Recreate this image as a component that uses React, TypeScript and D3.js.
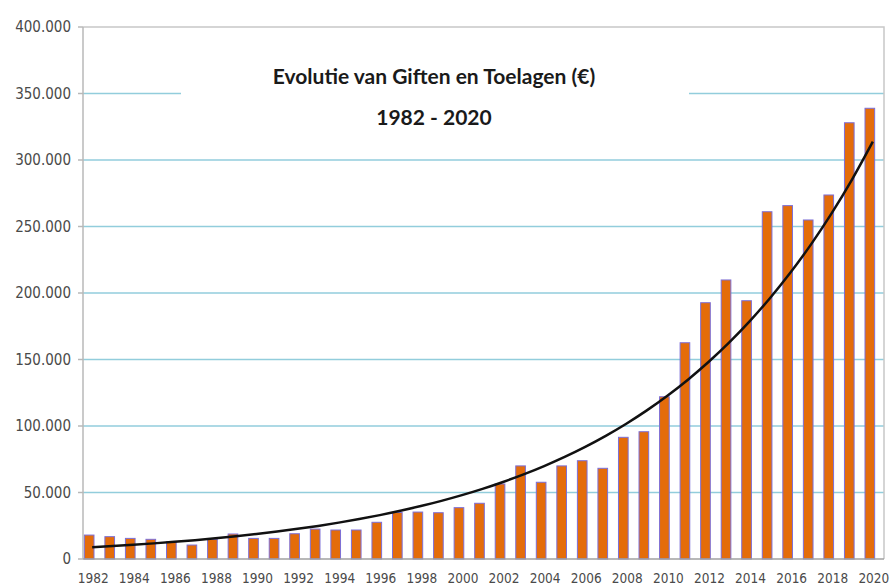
import React, { useRef, useEffect } from "react";
import * as d3 from "d3";

const years = d3.range(1982, 2021);
// yearly gifts and allowances in euro
const giften = [
  18000, 16800, 15500, 14800, 13000, 10500, 14800, 18800, 15500, 15500,
  19000, 22500, 21800, 21800, 27600, 35000, 35300, 34800, 38600, 41900,
  56400, 70000, 57700, 70000, 73900, 68200, 91500, 95700, 122000, 162600,
  192700, 209800, 194200, 261100, 265700, 254900, 273700, 328000, 338900,
];
const yTicks = [0, 50000, 100000, 150000, 200000, 250000, 300000, 350000, 400000];
const xLabelYears = years.filter((y) => y % 2 === 0);
const titleLines = ["Evolutie van Giften en Toelagen (€)", "1982 - 2020"];

const W = 891;
const H = 588;
const margin = { top: 27, right: 7, bottom: 29, left: 83 };

const App = () => {
  const svgRef = useRef<SVGSVGElement>(null);

  useEffect(() => {
    const svg = d3.select(svgRef.current);
    svg.selectAll("*").remove();

    const x = d3
      .scaleBand<number>()
      .domain(years)
      .range([margin.left, W - margin.right])
      .paddingInner(0.53)
      .paddingOuter(0.26);
    const y = d3
      .scaleLinear()
      .domain([0, 400000])
      .range([H - margin.bottom, margin.top]);

    const fmt = (v: number) => d3.format(",")(v).replace(/,/g, ".");
    const barShift = -4; // bars sit a little left of the year labels

    // gridlines
    svg
      .append("g")
      .selectAll("line")
      .data(yTicks.filter((t) => t > 0 && t < 400000))
      .join("line")
      .attr("x1", margin.left)
      .attr("x2", W - margin.right)
      .attr("y1", (d) => y(d))
      .attr("y2", (d) => y(d))
      .attr("stroke", "#92cddc")
      .attr("stroke-width", 1.5);

    // frame: top + right in light gray
    svg
      .append("path")
      .attr(
        "d",
        `M${margin.left},${y(400000)}H${W - margin.right}V${y(0)}`
      )
      .attr("fill", "none")
      .attr("stroke", "#c8c8c8")
      .attr("stroke-width", 1.5);

    // bars
    svg
      .append("g")
      .selectAll("rect")
      .data(giften)
      .join("rect")
      .attr("x", (d, i) => (x(years[i]) as number) + barShift)
      .attr("y", (d) => y(d))
      .attr("width", x.bandwidth())
      .attr("height", (d) => y(0) - y(d))
      .attr("fill", "#e46c0a")
      .attr("stroke", "#7c6fd8")
      .attr("stroke-width", 1);

    // exponential trendline (least squares on ln of the values)
    const t = years.map((yr) => yr - years[0]);
    const ly = giften.map((v) => Math.log(v));
    const tm = d3.mean(t) as number;
    const lm = d3.mean(ly) as number;
    const b =
      d3.sum(t, (ti, i) => (ti - tm) * (ly[i] - lm)) /
      d3.sum(t, (ti) => (ti - tm) ** 2);
    const a = Math.exp(lm - b * tm);
    const trend = years.map((yr, i) => ({ yr, v: a * Math.exp(b * t[i]) }));

    svg
      .append("path")
      .datum(trend)
      .attr(
        "d",
        d3
          .line<{ yr: number; v: number }>()
          .x((d) => (x(d.yr) as number) + x.bandwidth() / 2 + barShift + 3)
          .y((d) => y(d.v))
          .curve(d3.curveMonotoneX)
      )
      .attr("fill", "none")
      .attr("stroke", "#111")
      .attr("stroke-width", 2.5);

    // title box hides part of the 350.000 gridline
    svg
      .append("rect")
      .attr("x", 181)
      .attr("y", 60)
      .attr("width", 508)
      .attr("height", 80)
      .attr("fill", "white");

    svg
      .append("g")
      .selectAll("text")
      .data(titleLines)
      .join("text")
      .attr("x", 434)
      .attr("y", (d, i) => 84 + i * 41)
      .attr("text-anchor", "middle")
      .attr("font-family", "Lato, 'Open Sans', sans-serif")
      .attr("font-weight", 700)
      .attr("font-size", 21)
      .attr("fill", "#1a1a1a")
      .text((d) => d);

    // y axis
    const yAxis = svg.append("g");
    yAxis
      .append("line")
      .attr("x1", margin.left)
      .attr("x2", margin.left)
      .attr("y1", y(400000))
      .attr("y2", y(0))
      .attr("stroke", "#b8b8b8")
      .attr("stroke-width", 1.5);
    yAxis
      .selectAll("line.tick")
      .data(yTicks)
      .join("line")
      .attr("class", "tick")
      .attr("x1", margin.left - 5)
      .attr("x2", margin.left)
      .attr("y1", (d) => y(d))
      .attr("y2", (d) => y(d))
      .attr("stroke", "#b8b8b8")
      .attr("stroke-width", 1.5);
    yAxis
      .selectAll("text")
      .data(yTicks)
      .join("text")
      .attr("x", margin.left - 12)
      .attr("y", (d) => y(d))
      .attr("dy", "0.36em")
      .attr("text-anchor", "end")
      .attr("font-family", "'DejaVu Sans Condensed', 'DejaVu Sans', sans-serif")
      .attr("font-size", 15)
      .attr("fill", "#4a4a4a")
      .text((d) => fmt(d));

    // x axis
    svg
      .append("line")
      .attr("x1", margin.left)
      .attr("x2", W - margin.right)
      .attr("y1", y(0))
      .attr("y2", y(0))
      .attr("stroke", "#a0a0a0")
      .attr("stroke-width", 1.5);
    svg
      .append("g")
      .selectAll("text")
      .data(xLabelYears)
      .join("text")
      .attr("x", (d) => (x(d) as number) + x.bandwidth() / 2)
      .attr("y", H - 5)
      .attr("text-anchor", "middle")
      .attr("font-family", "'DejaVu Sans Condensed', 'DejaVu Sans', sans-serif")
      .attr("font-size", 13.5)
      .attr("fill", "#4a4a4a")
      .text((d) => d);
  }, []);

  return (
    <svg
      ref={svgRef}
      width={W}
      height={H}
      style={{ position: "absolute", left: 0, top: 0, background: "white" }}
    />
  );
};

export default App;
